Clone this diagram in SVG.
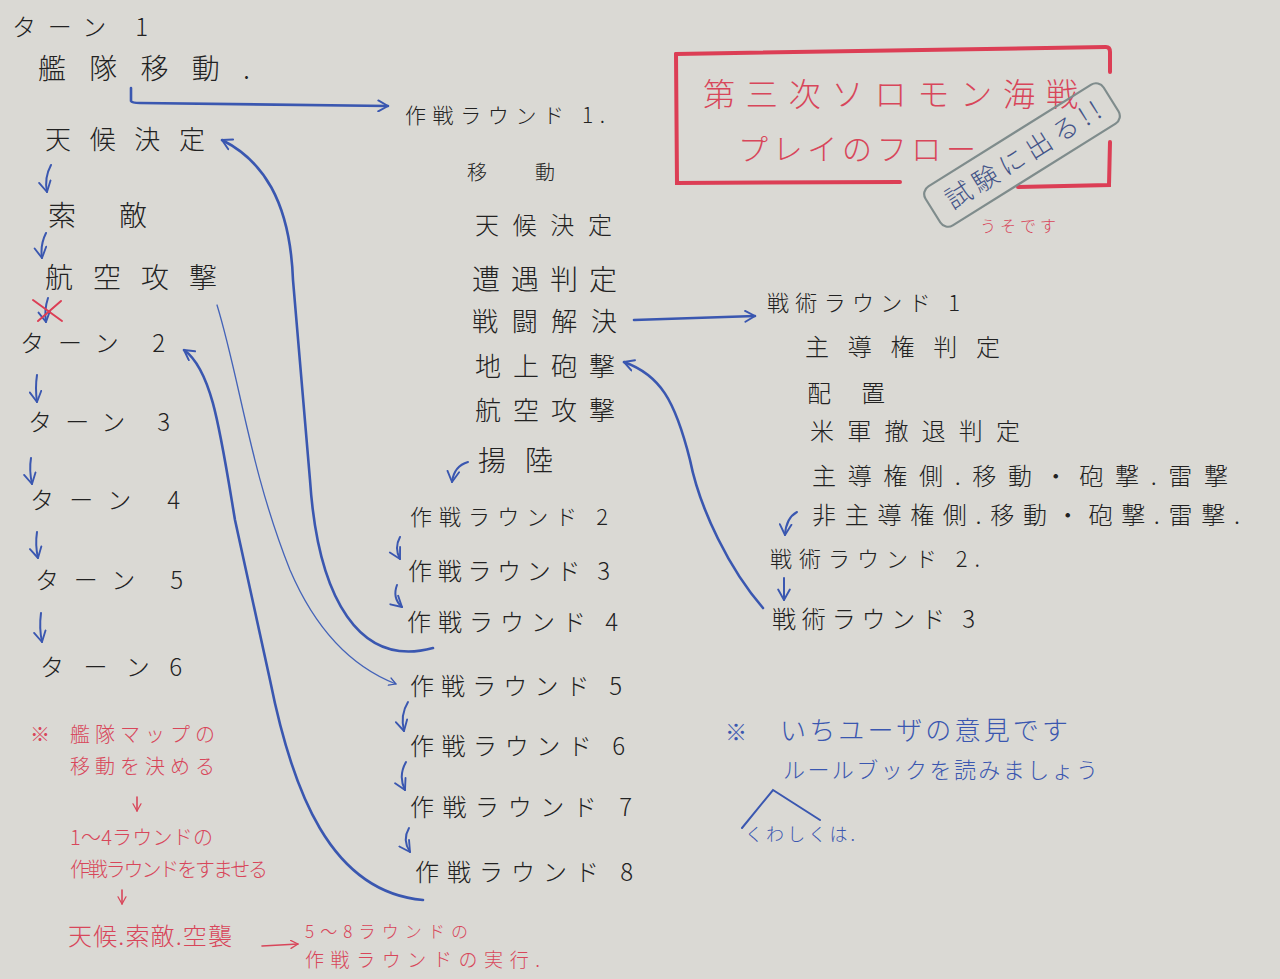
<svg xmlns="http://www.w3.org/2000/svg" width="1280" height="979" viewBox="0 0 1280 979">
<defs>
<marker id="ah" viewBox="0 0 12 12" refX="10" refY="6" markerWidth="5" markerHeight="5" orient="auto" markerUnits="strokeWidth">
<path d="M1,1 L10,6 L1,11" fill="none" stroke="#3a57b0" stroke-width="1.8" stroke-linecap="round" stroke-linejoin="round"/>
</marker>
<marker id="ahs" viewBox="0 0 12 12" refX="10" refY="6" markerWidth="7" markerHeight="7" orient="auto" markerUnits="strokeWidth">
<path d="M1,1 L10,6 L1,11" fill="none" stroke="#3a57b0" stroke-width="1.6" stroke-linecap="round" stroke-linejoin="round"/>
</marker>
<marker id="ahr" viewBox="0 0 12 12" refX="10" refY="6" markerWidth="6" markerHeight="6" orient="auto" markerUnits="strokeWidth">
<path d="M1,1 L10,6 L1,11" fill="none" stroke="#d9475a" stroke-width="1.6" stroke-linecap="round" stroke-linejoin="round"/>
</marker>
</defs>
<style>
text{font-family:"Noto Sans CJK JP","Noto Sans",sans-serif;font-weight:300}
.k{fill:#222}
.r{fill:#d8465a}
.b{fill:#3a57b0}
.c{fill:none;stroke:#3a57b0;stroke-width:2.6;stroke-linecap:round}
.cs{fill:none;stroke:#3a57b0;stroke-width:2;stroke-linecap:round}
.ct{fill:none;stroke:#4463b8;stroke-width:1.3;stroke-linecap:round}
.cr{fill:none;stroke:#d8465a;stroke-width:1.6;stroke-linecap:round}
</style>
<rect width="1280" height="979" fill="#dad9d4"/>

<g id="title">
<path d="M676,54 L1106,47 Q1110,47 1110,52 L1110,72" fill="none" stroke="#dc3e55" stroke-width="4" stroke-linecap="round"/>
<path d="M1110,142 L1109,185 L1018,187" fill="none" stroke="#dc3e55" stroke-width="4" stroke-linecap="round"/>
<path d="M676,54 L677,183 L900,182" fill="none" stroke="#dc3e55" stroke-width="4" stroke-linecap="round"/>
<text x="703" y="106" font-size="32" class="r" textLength="375" lengthAdjust="spacing">第三次ソロモン海戦</text>
<text x="738" y="160" font-size="30" class="r" textLength="238" lengthAdjust="spacing">プレイのフロー</text>
</g>
<g id="stamp" transform="translate(1022,155) rotate(-32)">
<rect x="-105" y="-23" width="210" height="46" rx="9" fill="none" stroke="#7f8c8c" stroke-width="2.2"/>
<text x="-88" y="10" font-size="26" fill="#445488" textLength="178" lengthAdjust="spacing">試験に出る!!</text>
</g>
<g id="uso"><text x="980" y="232" font-size="16" class="r" textLength="76" lengthAdjust="spacing">うそです</text></g>

<g id="connectors">
<path class="c" d="M131,88 L131,101 Q132,103 140,103 L388,106" marker-end="url(#ah)"/>
<path class="c" d="M433,648 C360,668 318,600 310,480 L293,280 C290,200 262,160 222,140" marker-end="url(#ah)"/>
<path class="ct" d="M217,305 C240,380 250,470 290,570 C320,640 360,670 396,684" marker-end="url(#ahs)"/>
<path class="c" d="M423,900 C330,892 292,790 270,680 L235,520 C220,430 212,370 184,350" marker-end="url(#ah)"/>
<path class="c" d="M634,320 L755,316" marker-end="url(#ah)"/>
<path class="c" d="M763,608 C730,570 700,510 690,460 C675,400 660,375 624,362" marker-end="url(#ah)"/>
<path class="cs" d="M51,165 Q44,178 47,192" marker-end="url(#ahs)"/>
<path class="cs" d="M46,233 Q40,245 42,258" marker-end="url(#ahs)"/>
<path class="cs" d="M48,298 Q44,310 46,322" marker-end="url(#ahs)"/>
<path class="cs" d="M37,375 Q35,388 37,402" marker-end="url(#ahs)"/>
<path class="cs" d="M31,458 Q29,470 32,484" marker-end="url(#ahs)"/>
<path class="cs" d="M37,532 Q35,545 38,558" marker-end="url(#ahs)"/>
<path class="cs" d="M41,613 Q39,628 42,642" marker-end="url(#ahs)"/>
<path class="cs" d="M468,462 Q454,466 452,482" marker-end="url(#ahs)"/>
<path class="cs" d="M400,537 Q394,548 400,559" marker-end="url(#ahs)"/>
<path class="cs" d="M397,585 Q392,598 402,607" marker-end="url(#ahs)"/>
<path class="cs" d="M408,702 Q400,715 404,731" marker-end="url(#ahs)"/>
<path class="cs" d="M406,762 Q398,776 405,790" marker-end="url(#ahs)"/>
<path class="cs" d="M409,828 Q402,840 410,852" marker-end="url(#ahs)"/>
<path class="cs" d="M797,512 Q786,518 785,535" marker-end="url(#ahs)"/>
<path class="cs" d="M784,578 L784,600" marker-end="url(#ahs)"/>
<path class="cr" d="M137,797 L137,811" marker-end="url(#ahr)"/>
<path class="cr" d="M122,890 L122,904" marker-end="url(#ahr)"/>
<path class="cr" d="M262,946 L298,944" marker-end="url(#ahr)"/>
<path fill="none" stroke="#dc3e55" stroke-width="2" stroke-linecap="round" d="M33,300 L62,321 M38,321 L61,301"/>
<path fill="none" stroke="#3a57b0" stroke-width="2" stroke-linecap="round" d="M742,828 L773,790 L820,820"/>
</g>

<g id="turns">
<text x="12" y="36" font-size="24" class="k" textLength="136" lengthAdjust="spacing">ターン 1</text>
<text x="38" y="79" font-size="28" class="k" textLength="212" lengthAdjust="spacing">艦隊移動.</text>
<text x="45" y="149" font-size="26" class="k" textLength="160" lengthAdjust="spacing">天候決定</text>
<text x="48" y="226" font-size="28" class="k" textLength="99" lengthAdjust="spacing">索敵</text>
<text x="45" y="288" font-size="28" class="k" textLength="172" lengthAdjust="spacing">航空攻撃</text>
<text x="20" y="352" font-size="24" class="k" textLength="145" lengthAdjust="spacing">ターン 2</text>
<text x="28" y="431" font-size="24" class="k" textLength="142" lengthAdjust="spacing">ターン 3</text>
<text x="30" y="509" font-size="24" class="k" textLength="150" lengthAdjust="spacing">ターン 4</text>
<text x="35" y="589" font-size="24" class="k" textLength="148" lengthAdjust="spacing">ターン 5</text>
<text x="40" y="676" font-size="24" class="k" textLength="142" lengthAdjust="spacing">ターン6</text>
</g>

<g id="opround1">
<text x="405" y="123" font-size="21" class="k" textLength="200" lengthAdjust="spacing">作戦ラウンド 1.</text>
<text x="467" y="180" font-size="20" class="k" textLength="88" lengthAdjust="spacing">移動</text>
<text x="475" y="234" font-size="24" class="k" textLength="137" lengthAdjust="spacing">天候決定</text>
<text x="472" y="290" font-size="28" class="k" textLength="145" lengthAdjust="spacing">遭遇判定</text>
<text x="472" y="331" font-size="26" class="k" textLength="145" lengthAdjust="spacing">戦闘解決</text>
<text x="475" y="376" font-size="26" class="k" textLength="140" lengthAdjust="spacing">地上砲撃</text>
<text x="475" y="420" font-size="26" class="k" textLength="140" lengthAdjust="spacing">航空攻撃</text>
<text x="478" y="471" font-size="28" class="k" textLength="75" lengthAdjust="spacing">揚陸</text>
</g>

<g id="oprounds">
<text x="410" y="525" font-size="22" class="k" textLength="198" lengthAdjust="spacing">作戦ラウンド 2</text>
<text x="408" y="580" font-size="24" class="k" textLength="202" lengthAdjust="spacing">作戦ラウンド 3</text>
<text x="407" y="631" font-size="24" class="k" textLength="211" lengthAdjust="spacing">作戦ラウンド 4</text>
<text x="410" y="695" font-size="24" class="k" textLength="212" lengthAdjust="spacing">作戦ラウンド 5</text>
<text x="410" y="755" font-size="24" class="k" textLength="215" lengthAdjust="spacing">作戦ラウンド 6</text>
<text x="410" y="816" font-size="24" class="k" textLength="222" lengthAdjust="spacing">作戦ラウンド 7</text>
<text x="415" y="881" font-size="24" class="k" textLength="218" lengthAdjust="spacing">作戦ラウンド 8</text>
</g>

<g id="tactical">
<text x="767" y="311" font-size="22" class="k" textLength="193" lengthAdjust="spacing">戦術ラウンド 1</text>
<text x="805" y="356" font-size="24" class="k" textLength="195" lengthAdjust="spacing">主導権判定</text>
<text x="807" y="402" font-size="24" class="k" textLength="78" lengthAdjust="spacing">配置</text>
<text x="810" y="440" font-size="24" class="k" textLength="210" lengthAdjust="spacing">米軍撤退判定</text>
<text x="812" y="485" font-size="24" class="k" textLength="416" lengthAdjust="spacing">主導権側.移動・砲撃.雷撃</text>
<text x="812" y="524" font-size="24" class="k" textLength="428" lengthAdjust="spacing">非主導権側.移動・砲撃.雷撃.</text>
<text x="770" y="567" font-size="22" class="k" textLength="210" lengthAdjust="spacing">戦術ラウンド 2.</text>
<text x="772" y="628" font-size="24" class="k" textLength="203" lengthAdjust="spacing">戦術ラウンド 3</text>
</g>

<g id="rednote">
<text x="30" y="742" font-size="20" class="r">※</text>
<text x="70" y="742" font-size="20" class="r" textLength="145" lengthAdjust="spacing">艦隊マップの</text>
<text x="70" y="774" font-size="20" class="r" textLength="145" lengthAdjust="spacing">移動を決める</text>
<text x="70" y="845" font-size="20" class="r" textLength="143" lengthAdjust="spacing">1～4ラウンドの</text>
<text x="70" y="877" font-size="20" class="r" textLength="198" lengthAdjust="spacing">作戦ラウンドをすませる</text>
<text x="68" y="945" font-size="24" class="r" textLength="164" lengthAdjust="spacing">天候.索敵.空襲</text>
<text x="305" y="938" font-size="17" class="r" textLength="163" lengthAdjust="spacing">5～8ラウンドの</text>
<text x="305" y="967" font-size="19" class="r" textLength="235" lengthAdjust="spacing">作戦ラウンドの実行.</text>
</g>

<g id="bluenote">
<text x="725" y="740" font-size="22" class="b">※</text>
<text x="780" y="740" font-size="26" class="b" textLength="288" lengthAdjust="spacing">いちユーザの意見です</text>
<text x="783" y="778" font-size="22" class="b" textLength="315" lengthAdjust="spacing">ルールブックを読みましょう</text>
<text x="745" y="841" font-size="18" class="b" textLength="110" lengthAdjust="spacing">くわしくは.</text>
</g>
</svg>
